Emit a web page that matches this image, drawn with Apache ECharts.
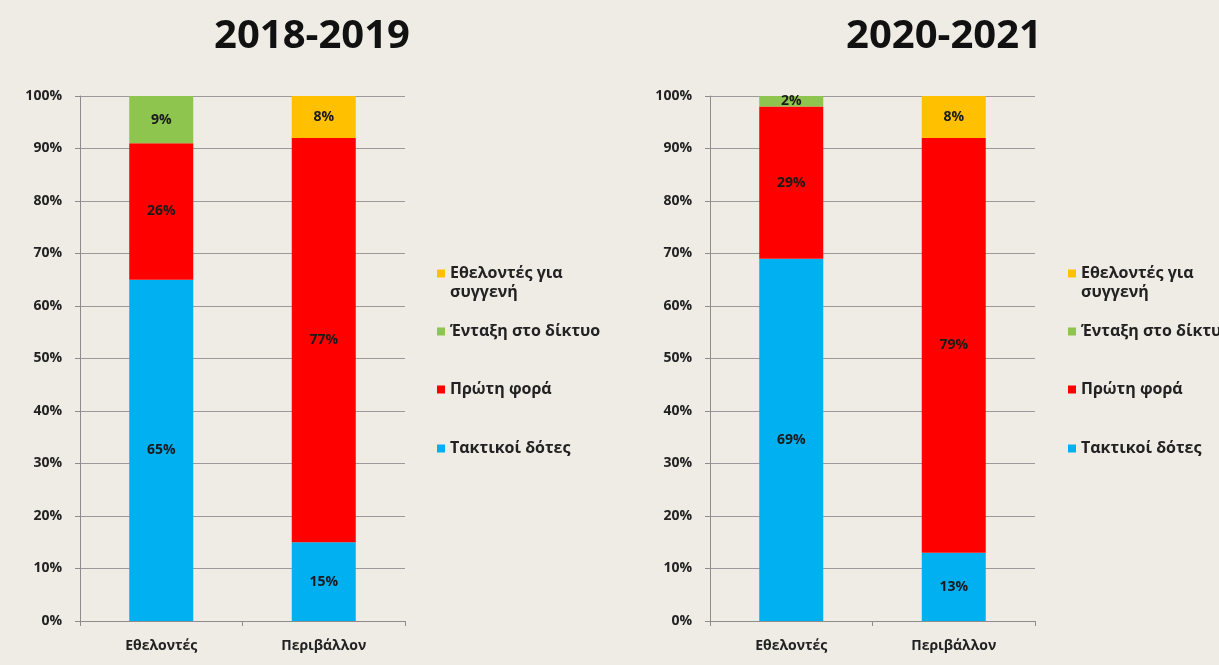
<!DOCTYPE html>
<html>
<head>
<meta charset="utf-8">
<script src="https://cdn.jsdelivr.net/npm/echarts@6/dist/echarts.min.js"></script>
<style>
html,body{margin:0;padding:0;background:#efece6;}
#c{width:1219px;height:665px;}
</style>
</head>
<body>
<div id="c"></div>
<script>
var categories = ['Εθελοντές', 'Περιβάλλον'];
var titles = ['2018-2019', '2020-2021'];
var seriesNames = ['Τακτικοί δότες', 'Πρώτη φορά', 'Ένταξη στο δίκτυο', 'Εθελοντές για συγγενή'];
var regular2018 = [65, 15];
var first2018 = [26, 77];
var network2018 = [9, 0];
var relatives2018 = [0, 8];
var regular2020 = [69, 13];
var first2020 = [29, 79];
var network2020 = [2, 0];
var relatives2020 = [0, 8];
var yTicks = [0, 10, 20, 30, 40, 50, 60, 70, 80, 90, 100];

var colors = ['#00B0F0', '#FF0000', '#8DC54E', '#FFC000'];
var FONT = '"Open Sans", "Noto Sans", sans-serif';

var data2018 = [regular2018, first2018, network2018, relatives2018];
var data2020 = [regular2020, first2020, network2020, relatives2020];

function makeSeries(dataSet, idx) {
  return seriesNames.map(function (n, i) {
    return {
      name: n,
      type: 'bar',
      stack: 'chart' + idx,
      xAxisIndex: idx,
      yAxisIndex: idx,
      barWidth: 64,
      itemStyle: { color: colors[i] },
      label: {
        show: true,
        position: 'inside',
        color: '#1a1a1a',
        fontFamily: FONT,
        fontWeight: 'bold',
        fontSize: 14,
        formatter: function (p) { return p.value > 0 ? p.value + '%' : ''; }
      },
      data: dataSet[i]
    };
  });
}

function makeXAxis(idx) {
  return {
    type: 'category',
    gridIndex: idx,
    data: categories,
    axisLine: { show: true, lineStyle: { color: '#8c8c8c' } },
    axisTick: { show: true, length: 5, lineStyle: { color: '#8c8c8c' } },
    axisLabel: { color: '#222', fontFamily: FONT, fontWeight: 'bold', fontSize: 14, margin: 18 }
  };
}
function makeYAxis(idx) {
  return {
    type: 'value',
    gridIndex: idx,
    min: yTicks[0],
    max: yTicks[yTicks.length - 1],
    interval: 10,
    axisLine: { show: true, lineStyle: { color: '#8c8c8c' } },
    axisTick: { show: true, length: 5, lineStyle: { color: '#8c8c8c' } },
    splitLine: { show: true, lineStyle: { color: '#9a9a9a', width: 1 } },
    axisLabel: { color: '#222', fontFamily: FONT, fontWeight: 'bold', fontSize: 14, margin: 18, formatter: '{value}%' }
  };
}

var legendTops = [258, 316, 374, 433];
var legendOrder = [3, 2, 1, 0];
var legendLefts = [432, 1063];
var legends = [];
legendLefts.forEach(function (lx) {
  legendOrder.forEach(function (si, k) {
    legends.push({
      left: lx,
      top: legendTops[k],
      data: [seriesNames[si]],
      icon: 'rect',
      itemWidth: 8,
      itemHeight: 8,
      itemGap: 4,
      selectedMode: false,
      formatter: function (name) { return name === 'Εθελοντές για συγγενή' ? 'Εθελοντές για' : name; },
      textStyle: {
        color: '#222',
        fontFamily: FONT,
        fontWeight: 'bold',
        fontSize: 16,
        lineHeight: 21
      }
    });
  });
});

var graphics = legendLefts.map(function (lx) {
  return {
    type: 'text',
    left: lx + 18,
    top: 284,
    style: { text: 'συγγενή', fill: '#222', font: 'bold 16px ' + FONT }
  };
});

var option = {
  backgroundColor: '#efece6',
  animation: false,
  title: [
    { text: titles[0], left: 307, top: 12, textAlign: 'center',
      textStyle: { fontFamily: FONT, fontWeight: 'bold', fontSize: 40, color: '#111' } },
    { text: titles[1], left: 939, top: 12, textAlign: 'center',
      textStyle: { fontFamily: FONT, fontWeight: 'bold', fontSize: 40, color: '#111' } }
  ],
  legend: legends,
  graphic: graphics,
  grid: [
    { left: 80, right: 814, top: 96, bottom: 44 },
    { left: 710, right: 184, top: 96, bottom: 44 }
  ],
  xAxis: [makeXAxis(0), makeXAxis(1)],
  yAxis: [makeYAxis(0), makeYAxis(1)],
  series: makeSeries(data2018, 0).concat(makeSeries(data2020, 1))
};

var chart = echarts.init(document.getElementById('c'));
chart.setOption(option);
</script>
</body>
</html>
